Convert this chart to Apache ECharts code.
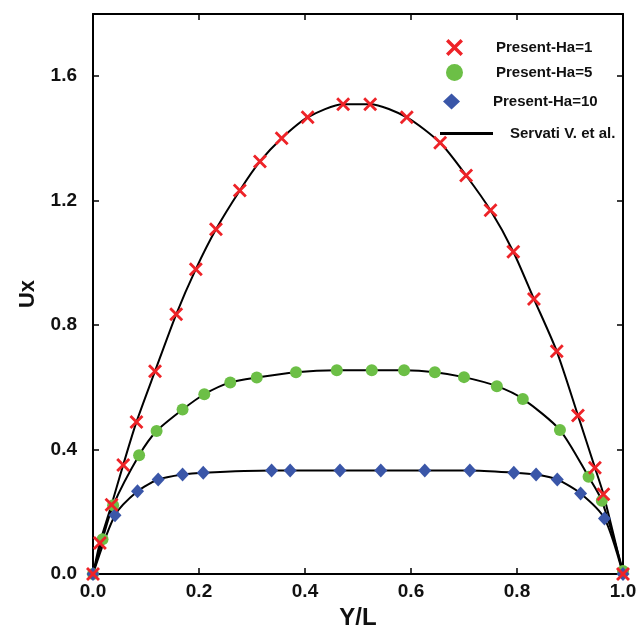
<!DOCTYPE html>
<html><head><meta charset="utf-8">
<script src="https://cdn.jsdelivr.net/npm/echarts@6/dist/echarts.min.js"></script>
<style>html,body{margin:0;padding:0;background:#fff}#c{width:640px;height:635px}</style>
</head><body><div id="c"></div><script>
// Ha = 1 (red crosses)
var ha1X = [0, 0.013, 0.035, 0.057, 0.082, 0.117, 0.157, 0.194, 0.232, 0.277, 0.315, 0.356, 0.405, 0.472, 0.523, 0.592, 0.655, 0.704, 0.750, 0.793, 0.832, 0.875, 0.915, 0.947, 0.963, 1.0];
var ha1Y = [0, 0.100, 0.223, 0.351, 0.489, 0.652, 0.835, 0.980, 1.108, 1.233, 1.326, 1.401, 1.468, 1.510, 1.510, 1.468, 1.386, 1.281, 1.169, 1.036, 0.884, 0.716, 0.510, 0.342, 0.257, 0];
// Ha = 5 (green circles)
var ha5X = [0, 0.018, 0.038, 0.087, 0.120, 0.169, 0.210, 0.259, 0.309, 0.383, 0.460, 0.526, 0.587, 0.645, 0.700, 0.762, 0.811, 0.881, 0.935, 0.960, 1.0];
var ha5Y = [0, 0.112, 0.221, 0.382, 0.460, 0.529, 0.578, 0.616, 0.632, 0.649, 0.655, 0.655, 0.655, 0.649, 0.633, 0.604, 0.563, 0.463, 0.313, 0.236, 0.01];
// Ha = 10 (blue diamonds)
var ha10X = [0, 0.0415, 0.084, 0.123, 0.169, 0.208, 0.337, 0.372, 0.466, 0.543, 0.626, 0.711, 0.794, 0.836, 0.876, 0.920, 0.965, 1.0];
var ha10Y = [0, 0.189, 0.266, 0.304, 0.320, 0.326, 0.333, 0.333, 0.333, 0.333, 0.333, 0.333, 0.326, 0.320, 0.304, 0.259, 0.179, 0];

var seriesNames = ['Present-Ha=1', 'Present-Ha=5', 'Present-Ha=10'];
var lineName = 'Servati V. et al.';
var xTicks = [0, 0.2, 0.4, 0.6, 0.8, 1.0];
var yTicks = [0, 0.4, 0.8, 1.2, 1.6];

function pairs(xs, ys) { return xs.map(function (x, i) { return [x, ys[i]]; }); }

var FONT = "'Liberation Sans', Arial, sans-serif";
var xPath = 'path://M0,2 L2,0 L7,5 L12,0 L14,2 L9,7 L14,12 L12,14 L7,9 L2,14 L0,12 L5,7 Z';
var RED = '#ee2328', GREEN = '#6cbf46', BLUE = '#3a56a8';

var chart = echarts.init(document.getElementById('c'), null, {renderer: 'canvas'});

function lineSeries(data) {
  return {type: 'line', name: lineName, data: data, smooth: 0.25,
    symbol: 'none', showSymbol: false, z: 1,
    lineStyle: {color: '#000', width: 2}, itemStyle: {color: '#000'}};
}

var legendText = function (pad) {
  return {fontFamily: FONT, fontWeight: 'bold', fontSize: 15, color: '#111', padding: [0, 0, 0, pad]};
};
function legendCfg(name, icon, left, top, w, h, pad) {
  return {data: [{name: name, icon: icon}], orient: 'vertical', left: left, top: top, padding: 0,
    itemWidth: w, itemHeight: h, selectedMode: false, textStyle: legendText(pad)};
}

var axisCommon = {
  type: 'value',
  axisLine: {show: true, onZero: false, lineStyle: {color: '#000', width: 2}},
  axisTick: {show: true, inside: true, length: 6, lineStyle: {color: '#000', width: 1.5}},
  splitLine: {show: false}
};

chart.setOption({
  animation: false,
  backgroundColor: '#fff',
  grid: {left: 93, right: 17, top: 14, bottom: 58},
  legend: [
    legendCfg(seriesNames[0], xPath, 446, 39, 17, 17, 28),
    legendCfg(seriesNames[1], 'circle', 446, 64, 17, 17, 28),
    legendCfg(seriesNames[2], 'diamond', 443, 93.5, 17, 16, 28),
    legendCfg(lineName, 'rect', 440, 126, 53, 3, 12)
  ],
  xAxis: [
    Object.assign({}, axisCommon, {
      position: 'bottom', min: xTicks[0], max: xTicks[xTicks.length - 1], interval: 0.2,
      name: 'Y/L', nameLocation: 'middle', nameGap: 28,
      nameTextStyle: {fontFamily: FONT, fontWeight: 'bold', fontSize: 24, color: '#111'},
      axisLabel: {formatter: function (v) { return v.toFixed(1); }, fontFamily: FONT, fontWeight: 'bold', fontSize: 19, color: '#111', margin: 8}
    }),
    Object.assign({}, axisCommon, {
      position: 'top', min: xTicks[0], max: xTicks[xTicks.length - 1], interval: 0.2,
      axisLabel: {show: false}
    })
  ],
  yAxis: [
    Object.assign({}, axisCommon, {
      position: 'left', min: yTicks[0], max: 1.8, interval: 0.4,
      name: 'Ux', nameLocation: 'middle', nameGap: 54,
      nameTextStyle: {fontFamily: FONT, fontWeight: 'bold', fontSize: 22, color: '#111'},
      axisLabel: {showMaxLabel: false, formatter: function (v) { return v.toFixed(1); }, fontFamily: FONT, fontWeight: 'bold', fontSize: 19, color: '#111', margin: 16}
    }),
    Object.assign({}, axisCommon, {
      position: 'right', min: yTicks[0], max: 1.8, interval: 0.4,
      axisLabel: {show: false}
    })
  ],
  series: [
    lineSeries(pairs(ha1X, ha1Y)),
    lineSeries(pairs(ha5X, ha5Y)),
    lineSeries(pairs(ha10X, ha10Y)),
    {type: 'scatter', name: seriesNames[1], data: pairs(ha5X, ha5Y), symbol: 'circle', symbolSize: 12, z: 3,
      itemStyle: {color: GREEN, opacity: 1}},
    {type: 'scatter', name: seriesNames[2], data: pairs(ha10X, ha10Y), symbol: 'diamond', symbolSize: [13, 14], z: 3,
      itemStyle: {color: BLUE, opacity: 1}},
    {type: 'scatter', name: seriesNames[0], data: pairs(ha1X, ha1Y), symbol: xPath, symbolSize: 14, z: 4,
      itemStyle: {color: RED, opacity: 1}}
  ]
});
</script></body></html>
